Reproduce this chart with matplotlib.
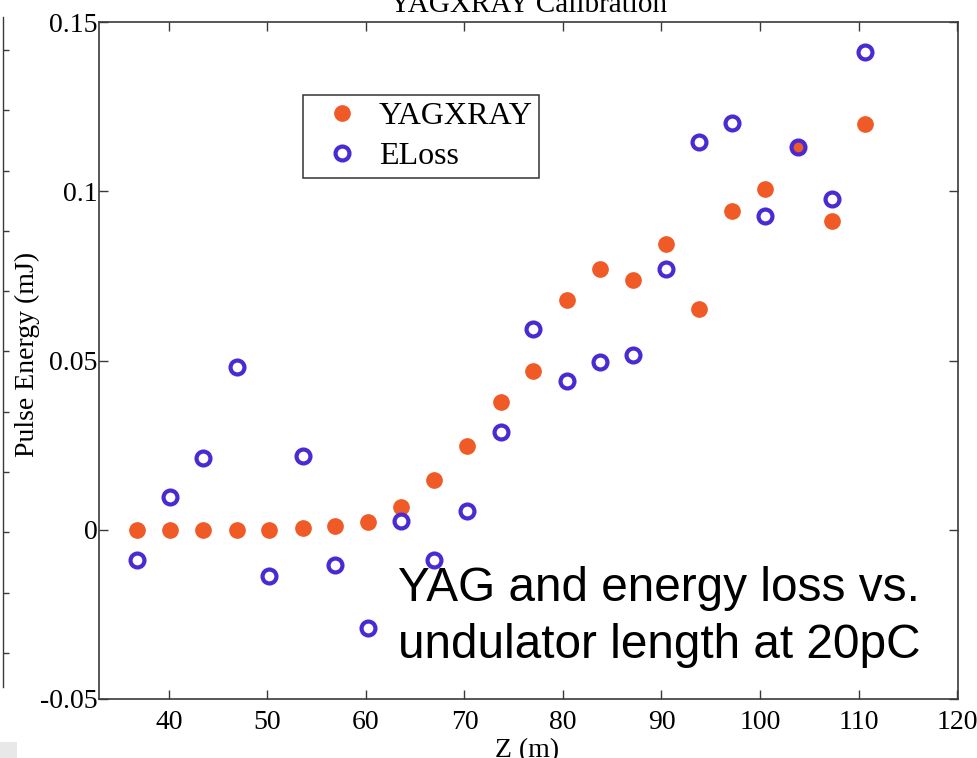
import matplotlib
matplotlib.use("Agg")
import matplotlib.pyplot as plt
from matplotlib.patches import Rectangle
from matplotlib.ticker import FixedLocator, FixedFormatter

# ---- data ----
z_m = [36.8, 40.1, 43.5, 46.9, 50.2, 53.6, 56.9, 60.2, 63.6, 66.9, 70.3, 73.7,
       77.0, 80.4, 83.8, 87.1, 90.5, 93.8, 97.2, 100.5, 103.9, 107.3, 110.7]
yagxray = [0.0, 0.0, 0.0, 0.0, 0.0, 0.0004, 0.0012, 0.0022, 0.0066, 0.0147,
           0.0246, 0.0377, 0.0470, 0.0680, 0.0771, 0.0737, 0.0843, 0.0651,
           0.0942, 0.1008, 0.1131, 0.0912, 0.1200]
eloss = [-0.0089, 0.0096, 0.0211, 0.0482, -0.0136, 0.0219, -0.0104, -0.0289,
         0.0026, -0.0089, 0.0055, 0.0288, 0.0594, 0.0438, 0.0495, 0.0517,
         0.0771, 0.1146, 0.1203, 0.0927, 0.1131, 0.0978, 0.1412]
x_ticks = [40, 50, 60, 70, 80, 90, 100, 110, 120]
x_tick_labels = ["40", "50", "60", "70", "80", "90", "100", "110", "120"]
y_ticks = [-0.05, 0.0, 0.05, 0.1, 0.15]
y_tick_labels = ["-0.05", "0", "0.05", "0.1", "0.15"]
series_names = ["YAGXRAY", "ELoss"]
title = "YAGXRAY Calibration"
x_label = "Z (m)"
y_label = "Pulse Energy (mJ)"
note = "YAG and energy loss vs.\nundulator length at 20pC"

W, H = 978, 758
SERIF = ["Liberation Serif", "DejaVu Serif"]
SANS = ["Liberation Sans", "DejaVu Sans"]
orange = "#f05a26"
blue = "#4a2ad2"
spine_col = "#3a3a3a"

fig = plt.figure(figsize=(W / 100, H / 100), dpi=100)

def fx(px):
    return px / W

def fy(py):
    return (H - py) / H

# main axes
left, right, top, bottom = 99, 958, 22, 699
ax = fig.add_axes([fx(left), fy(bottom), fx(right - left), (bottom - top) / H])
ax.plot(z_m, yagxray, linestyle="none", marker="o", markersize=11,
        color=orange, markeredgecolor=orange, label=series_names[0])
ax.plot(z_m, eloss, linestyle="none", marker="o", markersize=10,
        markerfacecolor="none", markeredgecolor=blue, markeredgewidth=3.0,
        label=series_names[1])
ax.set_xlim(32.9, 120.1)
ax.set_ylim(-0.05, 0.15)
ax.xaxis.set_major_locator(FixedLocator(x_ticks))
ax.xaxis.set_major_formatter(FixedFormatter(x_tick_labels))
ax.yaxis.set_major_locator(FixedLocator(y_ticks))
ax.yaxis.set_major_formatter(FixedFormatter(y_tick_labels))
ax.tick_params(direction="in", length=6.5, width=1.0, color=spine_col,
               top=True, right=True, labelsize=20)
ax.tick_params(axis="x", pad=8)
ax.tick_params(axis="y", pad=1)
for lab in ax.get_xticklabels() + ax.get_yticklabels():
    lab.set_family(SERIF)
for s in ax.spines.values():
    s.set_color(spine_col)
    s.set_linewidth(1.2)

leg = ax.legend(loc="upper left", bbox_to_anchor=(fx(303), fy(95)),
                bbox_transform=fig.transFigure, borderaxespad=0,
                prop={"family": SERIF, "size": 23}, frameon=True,
                fancybox=False, shadow=False, edgecolor="black",
                handlelength=2.05, handletextpad=0.12, labelspacing=0.35,
                borderpad=0.2, numpoints=1)
leg.get_frame().set_linewidth(1.1)

# titles / labels (cropped like the reference)
fig.text(fx(528.5), fy(12), title, ha="center", va="baseline",
         family=SERIF, fontsize=21)
fig.text(fx(527.5), fy(757), x_label, ha="center", va="baseline",
         family=SERIF, fontsize=20)
fig.text(fx(27), fy(354), y_label, ha="center", va="center", rotation=90,
         family=SERIF, fontsize=20)

# annotation
fig.text(fx(398), fy(658), note, ha="left", va="baseline",
         family=SANS, fontsize=34.4, linespacing=1.33, color="black")

# cut-off neighbouring panel at the left edge
ax0 = fig.add_axes([0, fy(687), fx(3), (687 - 17) / H])
ax0.set_xlim(0, 1)
ax0.set_ylim(687, 17)
for side in ["left", "top", "bottom"]:
    ax0.spines[side].set_visible(False)
ax0.spines["right"].set_color(spine_col)
ax0.spines["right"].set_linewidth(1.0)
ax0.set_xticks([])
ax0.yaxis.tick_right()
ax0.set_yticks([50, 110.3, 170.6, 230.9, 291.2, 351.5, 411.8, 472.1, 532.4, 592.7, 653])
ax0.tick_params(axis="y", direction="out", length=4, width=1.0,
                color=spine_col, labelright=False)
ax0.patch.set_visible(False)

# small grey box at bottom-left
fig.add_artist(Rectangle((0, 0), fx(17), (H - 742) / H, transform=fig.transFigure,
                         facecolor="#e8e8e8", edgecolor="none"))

fig.savefig("out.png", dpi=100)
